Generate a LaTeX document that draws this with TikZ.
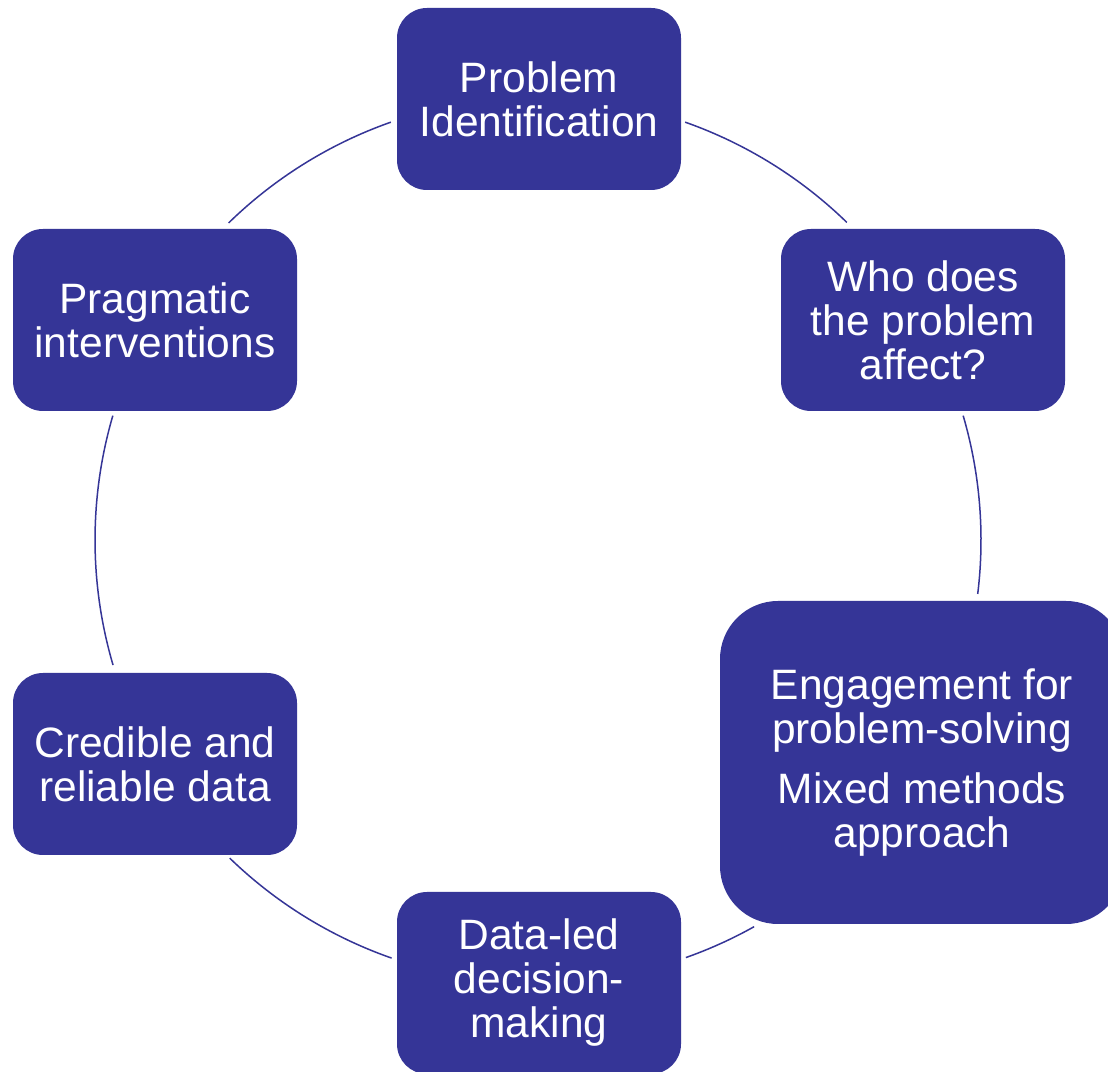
\documentclass[tikz,border=0pt]{standalone}
\usepackage{fontspec}
\setmainfont{Liberation Sans}
\usetikzlibrary{calc}
\definecolor{boxblue}{RGB}{53,53,151}
\tikzset{
  cbox/.style={fill=boxblue, draw=none, rounded corners=30pt, text=white,
    align=center, inner sep=0pt,
    font=\fontsize{42.5}{44}\selectfont},
  smallbox/.style={cbox, minimum width=284pt, minimum height=182pt},
  link/.style={draw=boxblue, line width=1.5pt}
}
\begin{document}
\begin{tikzpicture}[x=1pt,y=1pt]
\useasboundingbox (0,0) rectangle (1108,1071);
\clip (0,0) rectangle (1108,1071);
\fill[white] (0,0) rectangle (1108,1071);
\coordinate (c) at (538,531);
% boxes
\node[smallbox] (pi) at (539,972) {Problem\\Identification};
\node[smallbox] (who) at (923,751) {Who does\\the problem\\affect?};
\node[cbox, rounded corners=58pt, minimum width=404pt, minimum height=323pt] (eng) at (922,308.5)
  {Engagement for\\problem-solving\\[16pt]Mixed methods\\approach};
\node[smallbox] (dat) at (539,88) {Data-led\\decision-\\making};
\node[smallbox] (cred) at (155,307) {Credible and\\reliable data};
\node[smallbox] (prag) at (155,751) {Pragmatic\\interventions};
% arc end points on the circle
\coordinate (a1) at ($(c)+(109.4:443pt)$);
\coordinate (a2) at ($(c)+(70.6:443pt)$);
\coordinate (a3) at ($(c)+(16.3:443pt)$);
\coordinate (a4) at ($(c)+(-60.8:443pt)$);
\coordinate (a5) at ($(c)+(-109.3:443pt)$);
\coordinate (a6) at ($(c)+(163.7:443pt)$);
% connectors
\draw[link] (a1) arc[start angle=109.4, end angle=134.3, radius=443pt];
\draw[link] (a2) arc[start angle=70.6, end angle=45.8, radius=443pt];
\draw[link] (a3) arc[start angle=16.3, end angle=-7.0, radius=443pt];
\draw[link] (a4) arc[start angle=-60.8, end angle=-70.5, radius=443pt];
\draw[link] (a5) arc[start angle=-109.3, end angle=-134.1, radius=443pt];
\draw[link] (a6) arc[start angle=163.7, end angle=196.4, radius=443pt];
\end{tikzpicture}
\end{document}
